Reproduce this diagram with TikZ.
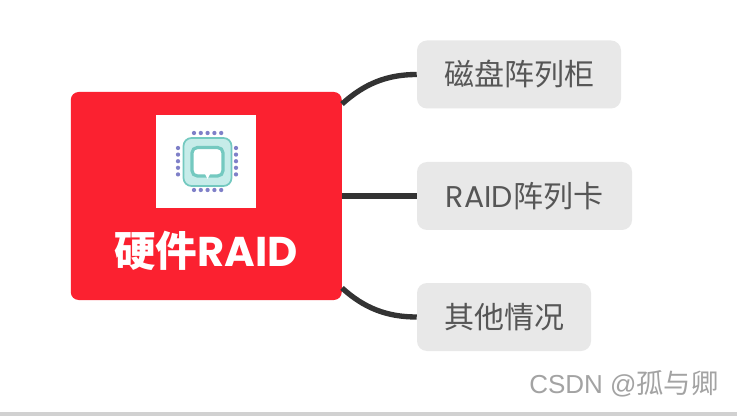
\documentclass[tikz,border=0pt]{standalone}
\usepackage{fontspec}
\usetikzlibrary{calc}
\newfontfamily\cjk{Noto Sans CJK SC}
\newfontfamily\latn{Poppins}
\newfontfamily\wmlatin{Liberation Sans}
\definecolor{rootred}{HTML}{FB2130}
\definecolor{topicgrey}{HTML}{E8E8E8}
\definecolor{topicink}{HTML}{565656}
\definecolor{linkink}{HTML}{333333}
\definecolor{chipfill}{HTML}{C6ECE9}
\definecolor{chipline}{HTML}{74C9C0}
\definecolor{pin}{HTML}{7F80C8}
\tikzset{
  x=0.75pt, y=-0.75pt,
  topic/.style={fill=topicgrey, rounded corners=7.5pt, inner sep=0pt, minimum height=51pt,
    text=topicink, font=\fontsize{22.5pt}{26pt}\selectfont},
  link/.style={draw=linkink, line width=4pt},
  chippin/.style={fill=pin, circle, inner sep=0pt, minimum size=3.2pt},
}
\begin{document}
\begin{tikzpicture}
  \useasboundingbox (0,0) rectangle (737,416);
  \fill[white] (0,0) rectangle (737,416);
  % strip along the lower edge
  \fill[black!18] (0,411.5) rectangle (737,416);

  % central topic and its picture
  \node[fill=rootred, rounded corners=6pt, inner sep=0pt, minimum width=203.25pt, minimum height=156pt] (root) at (206.25,196) {};
  \node[fill=white, inner sep=0pt, minimum width=75pt, minimum height=70pt] (pic) at (206,161.5) {};
  \node[text=white, inner sep=0pt, font=\fontsize{31.2pt}{34pt}\selectfont\bfseries] (title) at (206,251) {{\cjk 硬件}{\latn RAID}};

  % processor symbol
  \fill[chipfill, rounded corners=6pt] (183.5,138) rectangle (231.5,186);
  \draw[chipline, line width=1.3pt, rounded corners=6pt] (183.5,138) rectangle (231.5,186);
  \draw[chipline, line width=2.4pt, rounded corners=4pt, fill=white] (192,147.5) rectangle (223,176);
  \fill[white] (205,174) -- (210,174) -- (207.5,179) -- cycle;
  \foreach \t in {0,1,2,3,4} {
    \node[chippin] (pt\t) at (194+6.8*\t,133) {};
    \node[chippin] (pb\t) at (194+6.8*\t,190) {};
    \node[chippin] (pl\t) at (178,148+6.6*\t) {};
    \node[chippin] (pr\t) at (236,148+6.6*\t) {};
  }

  % subtopics
  \node[topic, minimum width=153pt] (a) at (519,74.5) {{\cjk 磁盘阵列柜}};
  \node[topic, minimum width=161.25pt] (b) at (524.5,196) {{\latn RAID}{\cjk 阵列卡}};
  \node[topic, minimum width=130.5pt] (c) at (504,317) {{\cjk 其他情况}};

  % branches leaving the central topic
  \coordinate (ra) at ($(root.east)+(0,-92)$);
  \coordinate (rc) at ($(root.east)+(0,92)$);
  \draw[link] (ra) .. controls +(22,-20) and +(-30,0) .. (a.west);
  \draw[link] (root.east) -- (b.west);
  \draw[link] (rc) .. controls +(22,20) and +(-30,0) .. (c.west);

  % watermark
  \node[text=black!36, inner sep=0pt, anchor=west] (wm) at (529,384) {{\wmlatin\fontsize{19.5pt}{22pt}\selectfont CSDN @}{\cjk\fontsize{20.5pt}{22pt}\selectfont 孤与卿}};
\end{tikzpicture}
\end{document}
